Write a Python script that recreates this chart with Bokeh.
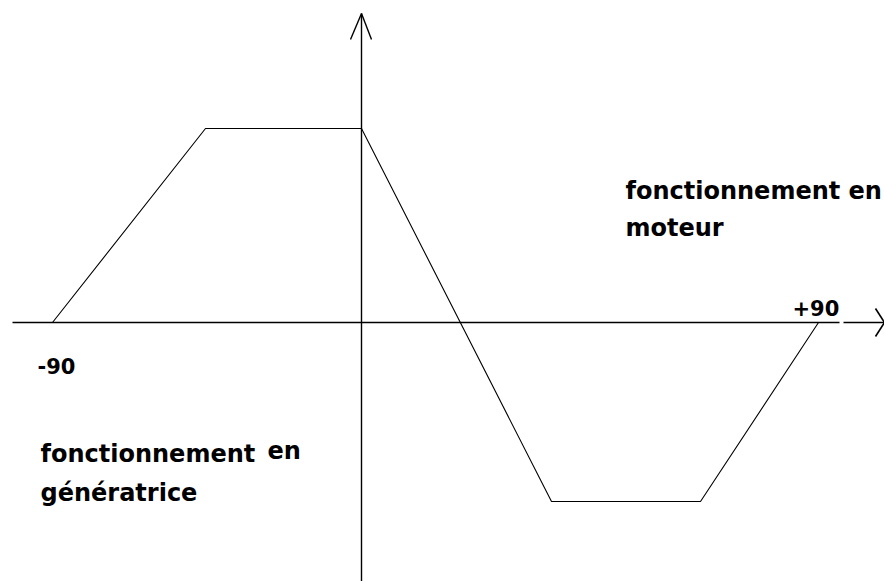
from bokeh.plotting import figure
from bokeh.models import Range1d, ColumnDataSource
from bokeh.core.properties import value
from bokeh.embed import file_html
from bokeh.resources import INLINE

# Curve (arbitrary units, origin at axes crossing)
curve_x = [-309, -156, 0, 190, 339, 457]
curve_y = [0, 194, 194, -179, -179, 0]

# Axes
haxis_x = [[-349, 478], [482, 523], [514, 523], [514, 523]]
haxis_y = [[0, 0], [0, 0], [14, 0], [-14, 0]]
vaxis_x = [[0, 0], [-11, 0], [10, 0]]
vaxis_y = [[-259, 309], [283, 309], [283, 309]]

# Labels
label_text = ["fonctionnement en", "moteur", "fonctionnement", "en", "génératrice"]
label_x = [264, 264, -321, -94, -321]
label_y = [132, 95, -131, -128, -170]

num_text = ["+90", "-90"]
num_x = [431, -324]
num_y = [15, -43]

p = figure(width=884, height=581, output_backend="svg", toolbar_location=None,
           x_range=Range1d(-361, 523), y_range=Range1d(-259, 322),
           min_border=0, outline_line_color=None)
p.axis.visible = False
p.grid.visible = False
p.background_fill_color = "white"
p.border_fill_color = "white"

p.multi_line(haxis_x, haxis_y, line_color="black", line_width=1.6)
p.multi_line(vaxis_x, vaxis_y, line_color="black", line_width=1.4)
p.line(curve_x, curve_y, line_color="black", line_width=1.1)

src = ColumnDataSource(dict(x=label_x, y=label_y, t=label_text))
p.text(x="x", y="y", text="t", source=src, text_font=value("DejaVu Sans"),
       text_font_style="bold", text_font_size="24px", text_color="black",
       text_baseline="alphabetic", text_align="left")

src2 = ColumnDataSource(dict(x=num_x, y=num_y, t=num_text))
p.text(x="x", y="y", text="t", source=src2, text_font=value("DejaVu Sans"),
       text_font_style="bold", text_font_size="21px", text_color="black",
       text_baseline="alphabetic", text_align="left")

open("out.html", "w").write(file_html(p, INLINE))
